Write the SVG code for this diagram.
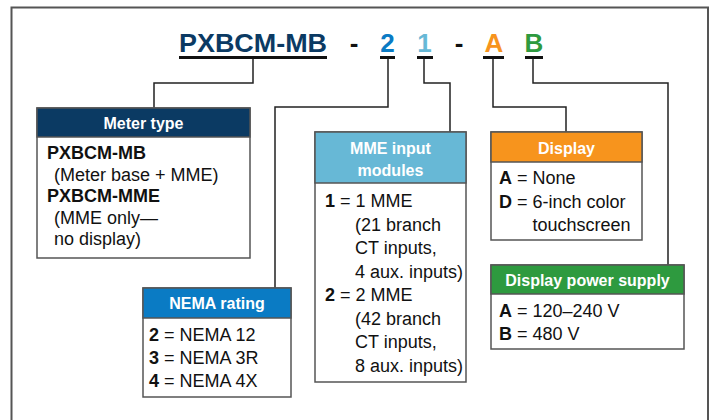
<svg xmlns="http://www.w3.org/2000/svg" width="709" height="420" viewBox="0 0 709 420">
<style>
.frame{fill:none;stroke:#555;stroke-width:2}
.box{fill:#fff;stroke:#555;stroke-width:1.5}
.ht{font-family:"Liberation Sans",Arial,sans-serif;font-weight:bold;font-size:16px;fill:#fff;text-anchor:middle}
.bt{font-family:"Liberation Sans",Arial,sans-serif;font-size:18px;fill:#111}
.b{font-weight:bold}
.title{font-family:"Liberation Sans",Arial,sans-serif;font-weight:bold;font-size:26px;text-anchor:middle}
.ul{stroke:#111;stroke-width:3}
.conn{fill:none;stroke:#222;stroke-width:1.5}
</style>
<rect width="709" height="420" fill="#fff"/>
<path class="frame" d="M11.5,420 V7.5 H708 V420"/>

<g id="title">
<text class="title" x="253" y="52" fill="#0b3a63" textLength="148" lengthAdjust="spacingAndGlyphs">PXBCM-MB</text>
<text class="title" x="354" y="52" fill="#111">-</text>
<text class="title" x="387.5" y="52" fill="#0a7bc4">2</text>
<text class="title" x="424.5" y="52" fill="#67b8d6">1</text>
<text class="title" x="459" y="52" fill="#111">-</text>
<text class="title" x="494" y="52" fill="#f7941d">A</text>
<text class="title" x="534" y="52" fill="#2e9a3f">B</text>
<line class="ul" x1="179" y1="57.5" x2="327" y2="57.5"/>
<line class="ul" x1="380" y1="57.5" x2="395" y2="57.5"/>
<line class="ul" x1="417" y1="57.5" x2="433" y2="57.5"/>
<line class="ul" x1="483" y1="57.5" x2="504" y2="57.5"/>
<line class="ul" x1="525" y1="57.5" x2="543" y2="57.5"/>
</g>

<g id="connectors">
<path class="conn" d="M253,59 V83 H154 V108"/>
<path class="conn" d="M388,59 V107 H275 V288"/>
<path class="conn" d="M424,59 V83 H450 V132"/>
<path class="conn" d="M493,59 V107 H566 V132"/>
<path class="conn" d="M533,59 V83 H668 V265"/>
</g>

<g id="meter-type">
<rect class="box" x="37" y="108" width="213" height="150"/>
<rect x="37" y="108" width="213" height="29" fill="#0b3a63" stroke="#555" stroke-width="1.5"/>
<text class="ht" x="143.5" y="128.5">Meter type</text>
<text class="bt b" x="47" y="159">PXBCM-MB</text>
<text class="bt" x="54" y="180.5">(Meter base + MME)</text>
<text class="bt b" x="47" y="202">PXBCM-MME</text>
<text class="bt" x="54" y="223.5">(MME only—</text>
<text class="bt" x="54" y="245">no display)</text>
</g>

<g id="nema-rating">
<rect class="box" x="143" y="288" width="148" height="109"/>
<rect x="143" y="288" width="148" height="30" fill="#0a7bc4" stroke="#555" stroke-width="1.5"/>
<text class="ht" x="217" y="308.5">NEMA rating</text>
<text class="bt" x="149" y="341"><tspan class="b">2</tspan> = NEMA 12</text>
<text class="bt" x="149" y="364"><tspan class="b">3</tspan> = NEMA 3R</text>
<text class="bt" x="149" y="387"><tspan class="b">4</tspan> = NEMA 4X</text>
</g>

<g id="mme-input">
<rect class="box" x="315" y="132" width="151" height="250"/>
<rect x="315" y="132" width="151" height="51" fill="#67b8d6" stroke="#555" stroke-width="1.5"/>
<text class="ht" x="390.5" y="153.5">MME input</text>
<text class="ht" x="390.5" y="175.5">modules</text>
<text class="bt" x="325" y="207"><tspan class="b">1</tspan> = 1 MME</text>
<text class="bt" x="355" y="230.5">(21 branch</text>
<text class="bt" x="355" y="254">CT inputs,</text>
<text class="bt" x="355" y="277.5">4 aux. inputs)</text>
<text class="bt" x="325" y="301"><tspan class="b">2</tspan> = 2 MME</text>
<text class="bt" x="355" y="324.5">(42 branch</text>
<text class="bt" x="355" y="348">CT inputs,</text>
<text class="bt" x="355" y="371.5">8 aux. inputs)</text>
</g>

<g id="display">
<rect class="box" x="491" y="132" width="151" height="108"/>
<rect x="491" y="132" width="151" height="30" fill="#f7941d" stroke="#555" stroke-width="1.5"/>
<text class="ht" x="566.5" y="153.5">Display</text>
<text class="bt" x="499" y="184"><tspan class="b">A</tspan> = None</text>
<text class="bt" x="499" y="207.5"><tspan class="b">D</tspan> = 6-inch color</text>
<text class="bt" x="532.5" y="231">touchscreen</text>
</g>

<g id="display-power">
<rect class="box" x="491" y="265" width="193" height="84"/>
<rect x="491" y="265" width="193" height="29" fill="#2e9a3f" stroke="#555" stroke-width="1.5"/>
<text class="ht" x="587.5" y="286">Display power supply</text>
<text class="bt" x="499" y="317"><tspan class="b">A</tspan> = 120–240 V</text>
<text class="bt" x="499" y="340"><tspan class="b">B</tspan> = 480 V</text>
</g>
</svg>
